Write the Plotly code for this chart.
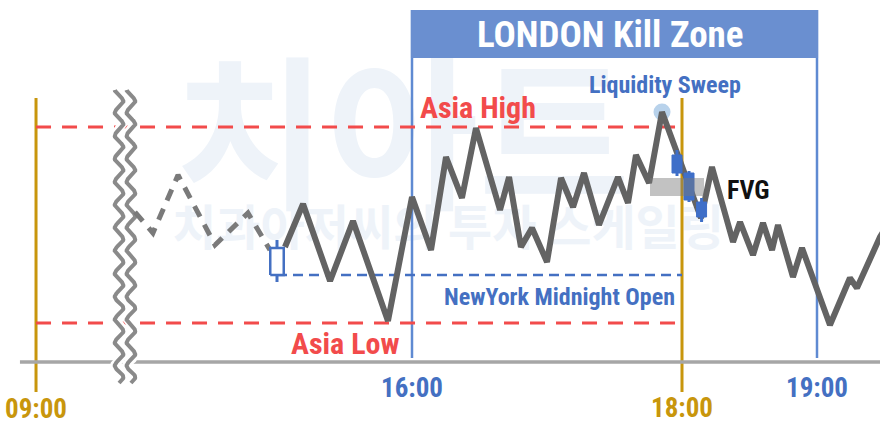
import numpy as np
import plotly.graph_objects as go

# ---------------- data ----------------
# time in hours (axis broken between 09:00 and the pre-London session)
tick_pos = [13.215, 16.0, 18.0, 19.0]
tick_labels = ["09:00", "16:00", "18:00", "19:00"]

asia_high = 296
asia_low = 100
ny_open = 148
baseline = 61

# pre-session dashed path
pre_t = [13.948, 14.081, 14.267, 14.541, 14.785, 14.948]
pre_p = [211, 190, 248, 178, 210, 173]

# main price path
px_t = [15.059, 15.193, 15.393, 15.563, 15.822, 16.000, 16.141, 16.252, 16.370, 16.474,
        16.652, 16.719, 16.807, 16.889, 17.000, 17.104, 17.193, 17.274, 17.385, 17.526,
        17.600, 17.659, 17.756, 17.852, 18.141, 18.222, 18.378, 18.430, 18.526, 18.600,
        18.667, 18.711, 18.822, 18.889, 19.096, 19.244, 19.296, 19.467, 19.541]
px_p = [176, 219, 142, 202, 102, 226, 173, 266, 225, 295,
        213, 246, 176, 195, 161, 245, 216, 250, 198, 246,
        220, 268, 240, 311, 205, 256, 181, 201, 168, 200,
        173, 198, 146, 175, 98, 145, 135, 186, 203]

# NY midnight candle (hollow, bullish)
ny_c_t = [15.0]
ny_c_o = [148]
ny_c_c = [175]
ny_c_h = [183]
ny_c_l = [141]

# FVG candles (bearish)
fvg_c_t = [17.963, 18.052, 18.145]
fvg_c_o = [268, 250, 221]
fvg_c_c = [250, 223, 206]
fvg_c_h = [273, 252, 225]
fvg_c_l = [247, 221, 201]

# FVG zone [t0, t1, p0, p1]
fvg_zone = [17.763, 18.163, 227, 245]

sweep_t = [17.852]
sweep_p = [311]

london_start, london_end = 16.0, 19.0

# ---------------- style ----------------
GRAY = "#636363"
RED = "#f24b4b"
BLUE = "#4470c2"
BLUE_LINE = "#5f8ad2"
CANDLE = "#3f6fc8"
GOLD = "#c8960c"
HEADER = "#6a8fd0"
FONT = "Roboto, Open Sans, sans-serif"


def cond(s):
    return f"<span style='font-stretch:condensed'>{s}</span>"


fig = go.Figure()

# watermark (faint, behind everything)
fig.add_trace(go.Scatter(x=[15.93], y=[268], mode="text", text=["치아트"],
                         textfont=dict(family="Noto Sans CJK KR", size=165, color="#eef3f9", weight="bold"),
                         hoverinfo="skip", showlegend=False))
fig.add_trace(go.Scatter(x=[16.267], y=[190], mode="text", text=["치과아저씨의 투자 스케일링"],
                         textfont=dict(family="Noto Sans CJK KR", size=48, color="#eef3f9", weight="bold"),
                         hoverinfo="skip", showlegend=False))

# vertical session lines
for t in [tick_pos[0], tick_pos[2]]:
    fig.add_trace(go.Scatter(x=[t, t], y=[31, 325], mode="lines",
                             line=dict(color=GOLD, width=3), hoverinfo="skip", showlegend=False))
for t in [london_start, london_end]:
    fig.add_trace(go.Scatter(x=[t, t], y=[65, 413], mode="lines",
                             line=dict(color=BLUE_LINE, width=2.5), hoverinfo="skip", showlegend=False))

# Asia range lines
for lvl in [asia_high, asia_low]:
    fig.add_trace(go.Scatter(x=[tick_pos[0], tick_pos[2]], y=[lvl, lvl], mode="lines",
                             line=dict(color=RED, width=3, dash="15px,11px"),
                             hoverinfo="skip", showlegend=False))

# NY midnight open line
fig.add_trace(go.Scatter(x=[ny_c_t[0], tick_pos[2]], y=[ny_open, ny_open], mode="lines",
                         line=dict(color=BLUE, width=2.5, dash="10px,6px"),
                         hoverinfo="skip", showlegend=False))

# baseline
fig.add_trace(go.Scatter(x=[13.096, 19.467], y=[baseline, baseline], mode="lines",
                         line=dict(color="#a6a6a6", width=3.5), hoverinfo="skip", showlegend=False))

# axis-break wavy glyph (decoration)
wy = np.linspace(40, 333, 400)
for cx in [13.83, 13.918]:
    wx = cx + 0.032 * np.sin(2 * np.pi * (wy - 40) / 23.0)
    fig.add_trace(go.Scatter(x=wx, y=wy, mode="lines", line=dict(color="#ffffff", width=9),
                             hoverinfo="skip", showlegend=False))
for cx in [13.83, 13.918]:
    wx = cx + 0.032 * np.sin(2 * np.pi * (wy - 40) / 23.0)
    fig.add_trace(go.Scatter(x=wx, y=wy, mode="lines", line=dict(color="#8a8a8a", width=4),
                             hoverinfo="skip", showlegend=False))

# liquidity sweep halo
fig.add_trace(go.Scatter(x=sweep_t, y=sweep_p, mode="markers",
                         marker=dict(size=17, color="rgba(160,195,228,0.75)"),
                         hoverinfo="skip", showlegend=False))

# pre-session dashed path
fig.add_trace(go.Scatter(x=pre_t, y=pre_p, mode="lines",
                         line=dict(color="#7a7a7a", width=5, dash="12px,9px"),
                         hoverinfo="skip", showlegend=False))

# main price path
fig.add_trace(go.Scatter(x=px_t, y=px_p, mode="lines",
                         line=dict(color=GRAY, width=6), hoverinfo="skip", showlegend=False))


def add_candles(ts, o, h, l, c, half, fill, edge, edge_w):
    for t, oo, hh, ll, cc in zip(ts, o, h, l, c):
        fig.add_trace(go.Scatter(x=[t, t], y=[ll, hh], mode="lines", line=dict(color=edge, width=3),
                                 hoverinfo="skip", showlegend=False))
        lo, hi = min(oo, cc), max(oo, cc)
        fig.add_trace(go.Scatter(x=[t - half, t + half, t + half, t - half, t - half],
                                 y=[lo, lo, hi, hi, lo], mode="lines", fill="toself",
                                 fillcolor=fill, line=dict(color=edge, width=edge_w),
                                 hoverinfo="skip", showlegend=False))


add_candles(ny_c_t, ny_c_o, ny_c_h, ny_c_l, ny_c_c, 0.05, "white", BLUE, 2.5)
add_candles(fvg_c_t, fvg_c_o, fvg_c_h, fvg_c_l, fvg_c_c, 0.037, CANDLE, CANDLE, 1)

shapes = [
    dict(type="rect", xref="x", yref="y", x0=fvg_zone[0], x1=fvg_zone[1], y0=fvg_zone[2], y1=fvg_zone[3],
         fillcolor="rgba(120,120,120,0.45)", line=dict(width=0), layer="above"),
    dict(type="rect", xref="x", yref="y", x0=london_start - 0.008, x1=london_end + 0.008, y0=365, y1=413,
         fillcolor=HEADER, line=dict(width=0), layer="above"),
]

annotations = [
    dict(x=17.467, y=389, text="LONDON Kill Zone", size=37, color="white"),
    dict(x=16.489, y=316, text="Asia High", size=30, color=RED),
    dict(x=15.504, y=80, text="Asia Low", size=30, color=RED),
    dict(x=17.096, y=126, text="NewYork Midnight Open", size=24, color=BLUE),
    dict(x=17.874, y=338, text="Liquidity Sweep", size=24, color=BLUE),
    dict(x=18.489, y=233, text="FVG", size=26, color="#111111"),
]
tick_colors = [GOLD, BLUE, GOLD, BLUE]
tick_y = [14, 35, 15, 35]
for t, lab, c, yy in zip(tick_pos, tick_labels, tick_colors, tick_y):
    annotations.append(dict(x=t, y=yy, text=lab, size=27, color=c))
ann_out = []
for a in annotations:
    ann_out.append(dict(x=a["x"], y=a["y"], text=cond(a["text"]), xref="x", yref="y", showarrow=False,
                        xanchor="center", yanchor="middle",
                        font=dict(family=FONT, size=a["size"], color=a["color"], weight="bold")))

fig.update_layout(
    width=880, height=423,
    margin=dict(l=0, r=0, t=0, b=0),
    paper_bgcolor="white", plot_bgcolor="white",
    showlegend=False,
    xaxis=dict(range=[16 - 412 / 135, 16 + 468 / 135], visible=False, fixedrange=True),
    yaxis=dict(range=[0, 423], visible=False, fixedrange=True),
    shapes=shapes, annotations=ann_out,
)

fig.write_html("out.html", config={"displayModeBar": False},
               post_script="document.body.style.margin='0';")
